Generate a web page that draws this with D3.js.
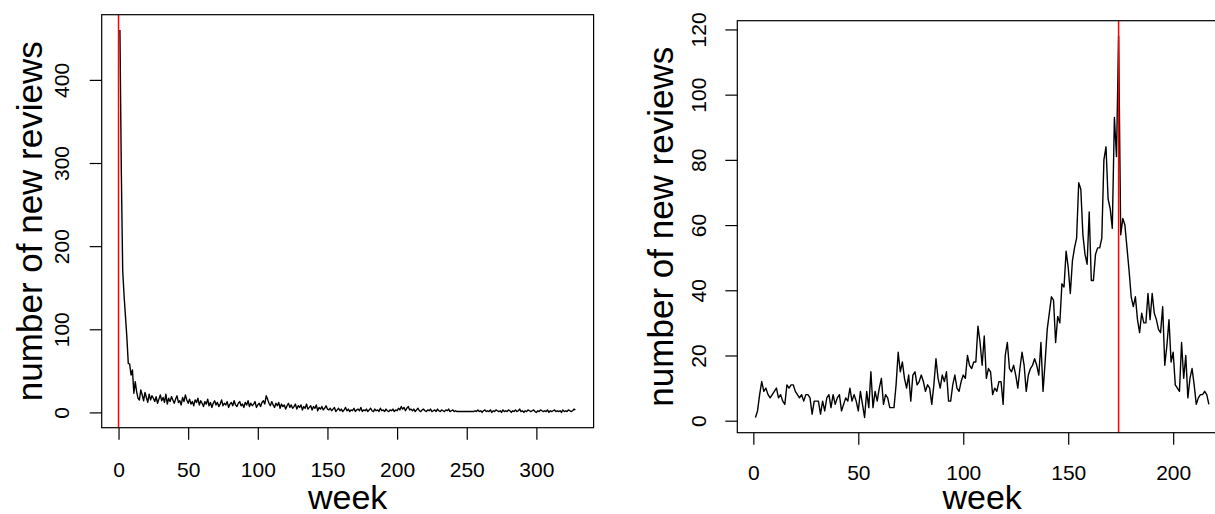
<!DOCTYPE html>
<html>
<head>
<meta charset="utf-8">
<title>new reviews per week</title>
<script src="https://cdn.jsdelivr.net/npm/d3@7"></script>
<style>
	body{ margin:0; background:#fff; }
	text{ font-family:"Liberation Sans", Arial, Helvetica, sans-serif; fill:#000; }
</style>
</head>
<body>
<svg id="chart" width="1215" height="514"></svg>

<script>

// weekly counts, left product (week 1 .. 328)
var reviews_left = [
	460, 290, 170, 140, 115, 90, 59, 58, 45, 51,
	23, 37, 25, 17, 15, 27, 21, 14, 24, 18,
	12, 22, 15, 20, 17, 13, 19, 11, 16, 21,
	14, 18, 12, 22, 10, 17, 13, 19, 15, 11,
	16, 20, 12, 14, 9, 18, 13, 21, 15, 11,
	16, 10, 13, 8, 15, 12, 17, 9, 14, 11,
	7, 13, 10, 16, 8, 12, 6, 11, 14, 9,
	12, 7, 10, 15, 8, 11, 9, 13, 6, 10,
	12, 8, 14, 9, 7, 11, 13, 8, 10, 6,
	12, 9, 14, 7, 11, 8, 10, 13, 6, 9,
	11, 7, 12, 14, 10, 20, 16, 11, 8, 13,
	9, 6, 11, 8, 12, 5, 10, 7, 9, 4,
	8, 11, 6, 9, 5, 7, 10, 4, 8, 6,
	9, 3, 7, 5, 10, 4, 6, 8, 3, 7,
	5, 9, 2, 6, 4, 7, 3, 5, 8, 4,
	3, 5, 2, 4, 6, 1, 3, 5, 2, 4,
	1, 3, 6, 2, 4, 1, 3, 2, 5, 1,
	3, 4, 2, 6, 1, 3, 2, 4, 1, 3,
	5, 2, 1, 4, 2, 3, 1, 5, 2, 3,
	1, 4, 2, 1, 3, 2, 4, 1, 3, 2,
	5, 3, 7, 4, 6, 2, 5, 7, 3, 4,
	2, 4, 1, 3, 5, 2, 1, 3, 4, 2,
	1, 3, 2, 4, 1, 2, 3, 1, 4, 2,
	1, 3, 2, 1, 3, 2, 4, 1, 2, 3,
	1, 2, 1, 1, 1, 1, 1, 1, 1, 1,
	1, 1, 1, 1, 1, 2, 1, 3, 1, 2,
	0, 2, 3, 1, 2, 1, 3, 0, 2, 1,
	3, 2, 1, 2, 0, 3, 1, 2, 1, 3,
	2, 0, 2, 1, 3, 1, 2, 4, 1, 2,
	0, 2, 1, 3, 2, 1, 2, 3, 1, 0,
	2, 1, 3, 2, 1, 2, 1, 3, 0, 2,
	1, 2, 3, 1, 2, 1, 2, 0, 3, 1,
	2, 1, 3, 2, 1, 2, 4, 3
];

// weekly counts, right product (week 1 .. 217)
var reviews_right = [
	1, 3, 8, 12, 9, 10, 8, 7, 8, 9,
	10, 7, 8, 6, 5, 11, 10, 11, 11, 9,
	8, 7, 8, 6, 8, 8, 7, 2, 6, 6,
	6, 2, 6, 3, 7, 8, 4, 8, 5, 7,
	8, 3, 5, 7, 6, 10, 6, 8, 6, 3,
	9, 5, 1, 9, 4, 15, 4, 9, 6, 10,
	13, 5, 8, 7, 4, 4, 4, 11, 21, 15,
	18, 13, 10, 14, 6, 14, 15, 11, 12, 14,
	12, 9, 11, 10, 5, 11, 19, 13, 10, 14,
	12, 15, 6, 6, 11, 14, 10, 9, 12, 14,
	13, 20, 17, 16, 18, 18, 29, 24, 17, 26,
	13, 16, 15, 8, 10, 9, 12, 12, 5, 20,
	24, 16, 15, 17, 14, 10, 16, 21, 17, 9,
	14, 16, 17, 19, 17, 14, 24, 9, 18, 28,
	33, 38, 37, 24, 32, 30, 42, 41, 52, 47,
	39, 49, 53, 56, 73, 71, 57, 51, 48, 64,
	43, 43, 51, 53, 53, 56, 80, 84, 68, 65,
	59, 93, 81, 118, 57, 62, 60, 53, 46, 38,
	35, 38, 31, 27, 33, 30, 30, 39, 31, 39,
	33, 31, 28, 27, 35, 17, 23, 31, 18, 21,
	11, 10, 9, 24, 13, 20, 7, 13, 16, 11,
	5, 7, 8, 8, 9, 8, 5
];

var marker_left = 0;
var marker_right = 174;

var xticks_left = [0, 50, 100, 150, 200, 250, 300];
var yticks_left = [0, 100, 200, 300, 400];
var xticks_right = [0, 50, 100, 150, 200];
var yticks_right = [0, 20, 40, 60, 80, 100, 120];

var x_title = "week";
var y_title = "number of new reviews";

var svg = d3.select("#chart");

// R style axis limits: data range padded 4% on each side
function padRange(lo, hi){
	var d = (hi - lo) * 0.04;
	return [lo - d, hi + d];
}

function drawPanel(values, marker, xticks, yticks, box){
	var pts = values.map(function(v, i){ return [i + 1, v]; });

	var x = d3.scaleLinear()
		.domain(padRange(1, values.length))
		.range([box.left, box.right]);
	var y = d3.scaleLinear()
		.domain(padRange(d3.min(values), d3.max(values)))
		.range([box.bottom, box.top]);

	var g = svg.append("g");

	// x axis
	var xa = g.append("g")
		.attr("transform", "translate(0," + box.bottom + ")")
		.call(d3.axisBottom(x).tickValues(xticks).tickSizeOuter(0).tickSize(12)
			.tickPadding(box.xpad).tickFormat(d3.format("d")));
	xa.select(".domain").remove();
	xa.selectAll("line").attr("stroke", "#000").attr("stroke-width", 1.2);
	xa.selectAll("text").attr("font-size", 21).attr("fill", "#000")
		.attr("font-family", "Liberation Sans, Arial, sans-serif");

	// y axis, labels turned like R's las=0
	var ya = g.append("g")
		.attr("transform", "translate(" + box.left + ",0)")
		.call(d3.axisLeft(y).tickValues(yticks).tickSizeOuter(0).tickSize(12)
			.tickFormat(d3.format("d")));
	ya.select(".domain").remove();
	ya.selectAll("line").attr("stroke", "#000").attr("stroke-width", 1.2);
	ya.selectAll("text")
		.attr("font-size", 21).attr("fill", "#000")
		.attr("font-family", "Liberation Sans, Arial, sans-serif")
		.attr("text-anchor", "middle")
		.attr("transform", "rotate(-90)")
		.attr("x", 0)
		.attr("y", -box.ypad)
		.attr("dy", null);

	// data line
	var line = d3.line()
		.x(function(d){ return x(d[0]); })
		.y(function(d){ return y(d[1]); });
	g.append("path")
		.datum(pts)
		.attr("d", line)
		.attr("fill", "none")
		.attr("stroke", "#000")
		.attr("stroke-width", 1.4)
		.attr("stroke-linejoin", "round");

	// release week
	g.append("line")
		.attr("x1", x(marker)).attr("x2", x(marker))
		.attr("y1", box.top).attr("y2", box.bottom)
		.attr("stroke", "#ff0000")
		.attr("stroke-width", 1.5);

	// frame
	g.append("rect")
		.attr("x", box.left).attr("y", box.top)
		.attr("width", box.right - box.left)
		.attr("height", box.bottom - box.top)
		.attr("fill", "none")
		.attr("stroke", "#000")
		.attr("stroke-width", 1.2);

	// titles
	g.append("text")
		.attr("x", (box.left + box.right) / 2)
		.attr("y", box.xtitle)
		.attr("text-anchor", "middle")
		.attr("font-size", 34)
		.text(x_title);
	g.append("text")
		.attr("transform", "translate(" + box.ytitle + "," + ((box.top + box.bottom) / 2) + ") rotate(-90)")
		.attr("text-anchor", "middle")
		.attr("font-size", 35)
		.text(y_title);
}

drawPanel(reviews_left, marker_left, xticks_left, yticks_left,
	{left: 101.7, right: 593.6, top: 14.7, bottom: 427.7, xpad: 22, ypad: 33, xtitle: 509, ytitle: 42});
drawPanel(reviews_right, marker_right, xticks_right, yticks_right,
	{left: 737.3, right: 1227, top: 20.7, bottom: 432.7, xpad: 20.4, ypad: 31, xtitle: 509, ytitle: 673});

</script>
</body>
</html>
